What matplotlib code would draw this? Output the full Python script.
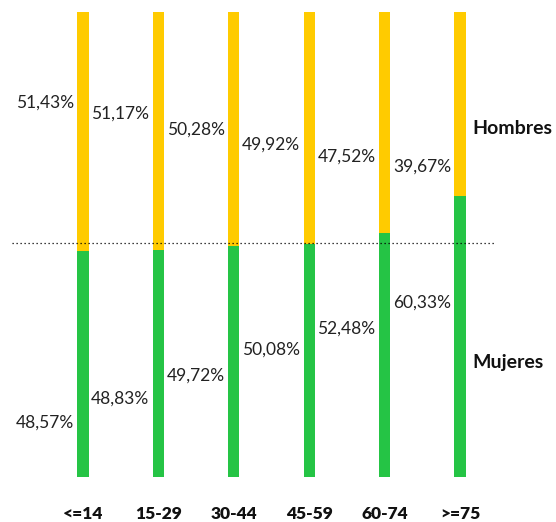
import matplotlib
matplotlib.use("Agg")
import matplotlib.pyplot as plt

# Data
categories = ["<=14", "15-29", "30-44", "45-59", "60-74", ">=75"]
mujeres = [48.57, 48.83, 49.72, 50.08, 52.48, 60.33]
hombres = [51.43, 51.17, 50.28, 49.92, 47.52, 39.67]

# where the value labels sit (fraction of the bar height)
hombres_label_y = [0.805, 0.781, 0.746, 0.714, 0.688, 0.667]
mujeres_label_y = [0.116, 0.168, 0.217, 0.273, 0.320, 0.374]

yellow = "#FFCB00"
green = "#25C445"

plt.rcParams["font.family"] = ["Lato", "DejaVu Sans"]

fig = plt.figure(figsize=(5.56, 5.22), dpi=100)
ax = fig.add_axes([0, 45 / 522, 1, 465 / 522])

x = list(range(len(categories)))
w = 0.146
m_frac = [v / 100 for v in mujeres]
h_frac = [v / 100 for v in hombres]

ax.bar(x, m_frac, width=w, color=green, zorder=2)
ax.bar(x, h_frac, width=w, bottom=m_frac, color=yellow, zorder=2)

# 50% reference line
ax.plot([-0.94, 5.46], [0.503, 0.503], color="black", lw=0.9, ls=(0, (1, 2.2)), zorder=3)

def fmt(v):
    return f"{v:.2f}".replace(".", ",") + "%"

for i in x:
    ax.text(i - 0.12, hombres_label_y[i], fmt(hombres[i]), ha="right", va="center",
            fontsize=12.5, color="#222222")
    ax.text(i - 0.12, mujeres_label_y[i], fmt(mujeres[i]), ha="right", va="center",
            fontsize=12.5, color="#222222")

ax.text(5.16, 0.75, "Hombres", ha="left", va="center", fontsize=14,
        fontweight="bold", color="#111111")
ax.text(5.16, 0.247, "Mujeres", ha="left", va="center", fontsize=14,
        fontweight="bold", color="#111111")

ax.set_xlim(-83 / 75.4, (556 - 83) / 75.4)
ax.set_ylim(0, 1)
ax.set_xticks(x)
ax.set_xticklabels(categories, fontsize=12.5, fontweight="heavy", color="#111111")
ax.tick_params(axis="x", length=0, pad=21)
ax.set_yticks([])
for s in ax.spines.values():
    s.set_visible(False)

fig.savefig("out.png", dpi=100)
